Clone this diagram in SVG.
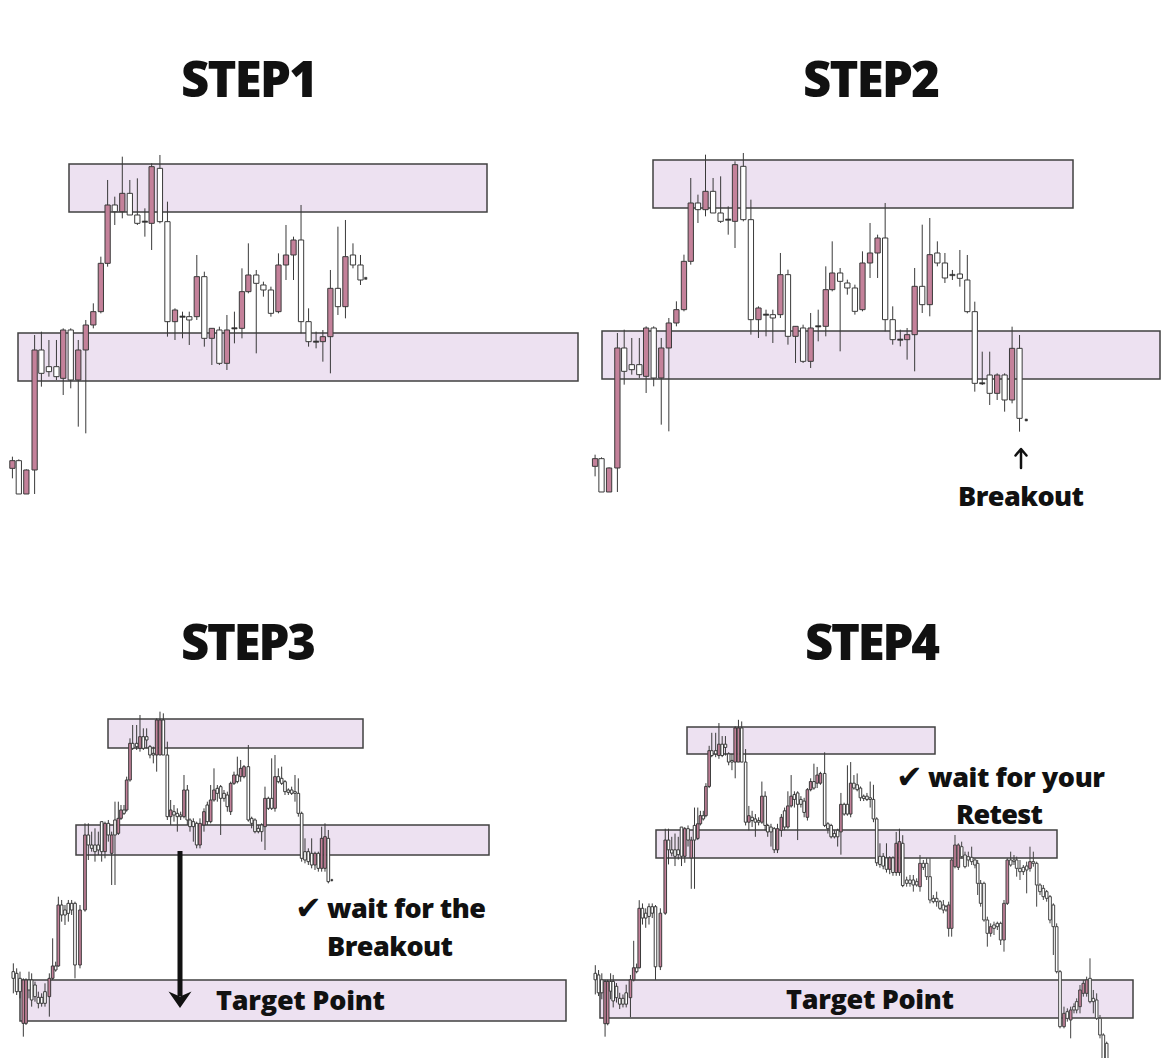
<svg xmlns="http://www.w3.org/2000/svg" xmlns:xlink="http://www.w3.org/1999/xlink" width="1170" height="1058" viewBox="0 0 1170 1058">
<style>
.z{fill:#ede1f1;stroke:#404040;stroke-width:1.5}
.k{fill:none;stroke:#3a3a3a;stroke-width:1;vector-effect:non-scaling-stroke}
.w{fill:#fff;stroke:#3a3a3a;stroke-width:1;vector-effect:non-scaling-stroke}
.p{fill:#c4819a;stroke:#3a3a3a;stroke-width:1;vector-effect:non-scaling-stroke}
.d{fill:#333;stroke:#333;stroke-width:0.6;vector-effect:non-scaling-stroke}
.s .k,.s .w,.s .p{stroke:#444;stroke-width:1}
.t{font-family:"Open Sans","Noto Sans","DejaVu Sans",sans-serif;font-weight:800;fill:#111}
.h{font-size:49px}
.l{font-size:27px}
.ck{font-family:"DejaVu Sans","Noto Sans",sans-serif;font-weight:700;font-size:32px}
.ar{fill:none;stroke:#111;stroke-width:2.5;stroke-linecap:round;stroke-linejoin:round}
</style>
<defs>
<g id="candlesA">
<path class="k" d="M33 950V1015M50 958V1062M70 988V1062M92 585V1062M110 575V740M130 600V710M150 600V720M168 565V765M188 565V745M208 600V860M228 540V880M248 490V565M268 350V520M286 120V380M305 170V255M325 50V235M345 120V225M365 115V255M385 205V290M403 70V330M425 45V250M445 185V590M465 505V600M485 515V595M503 515V615M523 345V540M543 395V620M563 565V675M583 560V675M603 525V690M623 515V610M643 385V595M660 310V460M681 390V640M700 425V470M720 440V530M740 340V520M760 255V420M780 290V420M800 195V580M820 505V620M840 575V625M858 570V665M878 390V700M898 260V525M918 240V535M938 310V385M958 345V435"/>
<rect class="p" x="26" y="962" width="14" height="23"/>
<rect class="w" x="43" y="962" width="14" height="100"/>
<rect class="p" x="63" y="990" width="14" height="72"/>
<rect class="p" x="85" y="630" width="14" height="360"/>
<rect class="w" x="103" y="630" width="14" height="70"/>
<rect class="w" x="123" y="680" width="14" height="15"/>
<rect class="w" x="143" y="680" width="14" height="30"/>
<rect class="p" x="161" y="570" width="14" height="145"/>
<rect class="w" x="181" y="570" width="14" height="150"/>
<rect class="p" x="201" y="630" width="14" height="90"/>
<rect class="p" x="221" y="555" width="14" height="75"/>
<rect class="p" x="241" y="515" width="14" height="40"/>
<rect class="p" x="261" y="370" width="14" height="145"/>
<rect class="p" x="279" y="195" width="14" height="175"/>
<rect class="w" x="298" y="195" width="14" height="20"/>
<rect class="p" x="318" y="160" width="14" height="55"/>
<rect class="w" x="338" y="160" width="14" height="65"/>
<rect class="w" x="358" y="225" width="14" height="25"/>
<rect class="d" x="378" y="243" width="14" height="4"/>
<rect class="p" x="396" y="80" width="14" height="170"/>
<rect class="w" x="418" y="85" width="14" height="160"/>
<rect class="w" x="438" y="245" width="14" height="300"/>
<rect class="p" x="458" y="510" width="14" height="35"/>
<rect class="d" x="478" y="528" width="14" height="4"/>
<rect class="w" x="496" y="530" width="14" height="10"/>
<rect class="p" x="516" y="410" width="14" height="120"/>
<rect class="w" x="536" y="410" width="14" height="185"/>
<rect class="p" x="556" y="565" width="14" height="30"/>
<rect class="w" x="576" y="570" width="14" height="100"/>
<rect class="p" x="596" y="570" width="14" height="100"/>
<rect class="d" x="616" y="563" width="14" height="4"/>
<rect class="p" x="636" y="455" width="14" height="110"/>
<rect class="p" x="653" y="405" width="14" height="50"/>
<rect class="w" x="674" y="405" width="14" height="25"/>
<rect class="w" x="693" y="435" width="14" height="15"/>
<rect class="w" x="713" y="450" width="14" height="70"/>
<rect class="p" x="733" y="375" width="14" height="140"/>
<rect class="p" x="753" y="345" width="14" height="30"/>
<rect class="p" x="773" y="300" width="14" height="45"/>
<rect class="w" x="793" y="300" width="14" height="245"/>
<rect class="w" x="813" y="545" width="14" height="60"/>
<rect class="d" x="833" y="603" width="14" height="4"/>
<rect class="p" x="851" y="590" width="14" height="15"/>
<rect class="p" x="871" y="445" width="14" height="145"/>
<rect class="w" x="891" y="445" width="14" height="55"/>
<rect class="p" x="911" y="350" width="14" height="150"/>
<rect class="w" x="931" y="345" width="14" height="30"/>
<rect class="w" x="951" y="375" width="14" height="45"/>
</g>
<g id="candlesB">
<path class="k" d="M40 775V865M50 790V870M60 800V880M70 820V995M78 820V960M87 800V880M95 805V905M105 830V890M115 860V910M125 865V905M135 835V905M148 805V935M158 700V825M167 770V800M175 575V785M185 585V650M195 600V660M205 585V650M215 585V630M225 590V820M240 600V790M255 355V620M265 355V465M275 380V440M285 370V470M295 380V450M305 350V470M315 350V460M325 345V410M335 380V540M345 290V540M355 290V390M363 300V345M372 300V330M380 215V320M390 100V230M398 60V135M410 60V135M420 30V140M430 70V135M440 70V130M450 120V160M460 125V175M470 40V200M480 20V150M490 25V150M502 110V345M512 285V360M522 300V350M532 310V380M542 320V345M552 210V340M562 240V360M570 340V380M580 340V410M590 350V430M600 340V430M612 310V380M622 290V360M632 240V355M642 190V290M652 240V290M662 240V390M672 255V290M682 260V320M692 230V330M702 200V240M712 155V235M722 165V230M732 180V220M745 120V350M755 335V370M765 340V385M775 360V385M785 355V410M795 245V435M805 275V315M815 160V315M825 150V320M835 190V235M845 185V240M855 225V270M865 250V270M875 245V270M885 210V290M895 220V335M905 320V470M915 400V475M925 430V480M935 400V490M945 440V495M955 440V500M965 365V500M975 355V500M985 375V535"/>
<rect class="w" x="36" y="800" width="8" height="20"/>
<rect class="w" x="46" y="805" width="8" height="55"/>
<rect class="w" x="56" y="820" width="8" height="40"/>
<rect class="p" x="66" y="825" width="8" height="130"/>
<rect class="p" x="74" y="825" width="8" height="130"/>
<rect class="w" x="83" y="825" width="8" height="30"/>
<rect class="w" x="91" y="825" width="8" height="60"/>
<rect class="w" x="101" y="840" width="8" height="35"/>
<rect class="w" x="111" y="877" width="8" height="18"/>
<rect class="w" x="121" y="877" width="8" height="18"/>
<rect class="w" x="131" y="860" width="8" height="35"/>
<rect class="p" x="144" y="820" width="8" height="55"/>
<rect class="p" x="154" y="783" width="8" height="37"/>
<rect class="w" x="163" y="783" width="8" height="12"/>
<rect class="p" x="171" y="600" width="8" height="183"/>
<rect class="w" x="181" y="600" width="8" height="30"/>
<rect class="w" x="191" y="615" width="8" height="15"/>
<rect class="w" x="201" y="595" width="8" height="30"/>
<rect class="w" x="211" y="595" width="8" height="20"/>
<rect class="w" x="221" y="595" width="8" height="185"/>
<rect class="p" x="236" y="615" width="8" height="165"/>
<rect class="p" x="251" y="390" width="8" height="225"/>
<rect class="w" x="261" y="390" width="8" height="30"/>
<rect class="w" x="271" y="420" width="8" height="10"/>
<rect class="w" x="281" y="420" width="8" height="20"/>
<rect class="w" x="291" y="420" width="8" height="15"/>
<rect class="w" x="301" y="350" width="8" height="90"/>
<rect class="p" x="311" y="355" width="8" height="85"/>
<rect class="w" x="321" y="355" width="8" height="35"/>
<rect class="p" x="331" y="390" width="8" height="55"/>
<rect class="w" x="341" y="345" width="8" height="45"/>
<rect class="p" x="351" y="340" width="8" height="45"/>
<rect class="p" x="359" y="315" width="8" height="25"/>
<rect class="w" x="368" y="315" width="8" height="10"/>
<rect class="p" x="376" y="225" width="8" height="90"/>
<rect class="p" x="386" y="115" width="8" height="110"/>
<rect class="w" x="394" y="115" width="8" height="15"/>
<rect class="w" x="406" y="115" width="8" height="10"/>
<rect class="p" x="416" y="95" width="8" height="35"/>
<rect class="w" x="426" y="95" width="8" height="35"/>
<rect class="w" x="436" y="95" width="8" height="10"/>
<rect class="w" x="446" y="125" width="8" height="25"/>
<rect class="w" x="456" y="145" width="8" height="5"/>
<rect class="p" x="466" y="45" width="8" height="105"/>
<rect class="p" x="476" y="45" width="8" height="105"/>
<rect class="w" x="486" y="45" width="8" height="105"/>
<rect class="w" x="498" y="150" width="8" height="185"/>
<rect class="p" x="508" y="315" width="8" height="20"/>
<rect class="w" x="518" y="320" width="8" height="10"/>
<rect class="w" x="528" y="325" width="8" height="10"/>
<rect class="w" x="538" y="330" width="8" height="5"/>
<rect class="p" x="548" y="255" width="8" height="80"/>
<rect class="w" x="558" y="255" width="8" height="90"/>
<rect class="w" x="566" y="345" width="8" height="20"/>
<rect class="w" x="576" y="350" width="8" height="15"/>
<rect class="w" x="586" y="355" width="8" height="65"/>
<rect class="p" x="596" y="355" width="8" height="65"/>
<rect class="p" x="608" y="320" width="8" height="40"/>
<rect class="w" x="618" y="300" width="8" height="50"/>
<rect class="p" x="628" y="285" width="8" height="65"/>
<rect class="p" x="638" y="255" width="8" height="30"/>
<rect class="w" x="648" y="250" width="8" height="15"/>
<rect class="w" x="658" y="245" width="8" height="35"/>
<rect class="w" x="668" y="265" width="8" height="15"/>
<rect class="w" x="678" y="270" width="8" height="35"/>
<rect class="p" x="688" y="235" width="8" height="85"/>
<rect class="p" x="698" y="210" width="8" height="25"/>
<rect class="w" x="708" y="210" width="8" height="20"/>
<rect class="p" x="718" y="190" width="8" height="25"/>
<rect class="p" x="728" y="185" width="8" height="30"/>
<rect class="w" x="741" y="185" width="8" height="160"/>
<rect class="w" x="751" y="340" width="8" height="15"/>
<rect class="w" x="761" y="345" width="8" height="35"/>
<rect class="w" x="771" y="370" width="8" height="10"/>
<rect class="w" x="781" y="360" width="8" height="20"/>
<rect class="p" x="791" y="280" width="8" height="85"/>
<rect class="w" x="801" y="280" width="8" height="30"/>
<rect class="w" x="811" y="280" width="8" height="30"/>
<rect class="p" x="821" y="215" width="8" height="95"/>
<rect class="w" x="831" y="215" width="8" height="15"/>
<rect class="w" x="841" y="220" width="8" height="15"/>
<rect class="w" x="851" y="230" width="8" height="30"/>
<rect class="w" x="861" y="255" width="8" height="7"/>
<rect class="w" x="871" y="255" width="8" height="10"/>
<rect class="w" x="881" y="260" width="8" height="5"/>
<rect class="w" x="891" y="265" width="8" height="60"/>
<rect class="w" x="901" y="325" width="8" height="135"/>
<rect class="w" x="911" y="440" width="8" height="25"/>
<rect class="w" x="921" y="440" width="8" height="30"/>
<rect class="w" x="931" y="445" width="8" height="35"/>
<rect class="p" x="941" y="445" width="8" height="35"/>
<rect class="w" x="951" y="445" width="8" height="45"/>
<rect class="p" x="961" y="400" width="8" height="90"/>
<rect class="p" x="971" y="395" width="8" height="95"/>
<rect class="w" x="981" y="400" width="8" height="130"/>
</g>
</defs>

<g id="step1">
<text class="t h" x="181" y="97" textLength="137">STEP1</text>
<rect class="z" x="69" y="164" width="418" height="48"/>
<rect class="z" x="18" y="333" width="560" height="48"/>
<g transform="translate(0,140) scale(0.3763,0.33333)">
<use xlink:href="#candlesA" href="#candlesA"/>
<rect class="d" x="969" y="412" width="6" height="6"/>
</g>
</g>

<g id="step2">
<text class="t h" x="803" y="97" textLength="137">STEP2</text>
<rect class="z" x="653" y="160" width="420" height="48"/>
<rect class="z" x="602" y="331" width="558" height="48"/>
<g transform="translate(582.6,138) scale(0.3782,0.33333)">
<use xlink:href="#candlesA" href="#candlesA"/>
</g>
<g transform="translate(585,140) scale(0.373,0.33333)">
<path class="k" d="M985 390V420M1005 330V440M1025 345V520M1045 485V755M1065 635V735M1085 635V795M1105 700V780M1125 700V815M1145 560V790M1165 585V875"/>
<rect class="d" x="978" y="403" width="14" height="4"/>
<rect class="w" x="998" y="402" width="14" height="13"/>
<rect class="w" x="1018" y="420" width="14" height="95"/>
<rect class="w" x="1038" y="515" width="14" height="215"/>
<rect class="d" x="1058" y="728" width="14" height="4"/>
<rect class="w" x="1078" y="705" width="14" height="55"/>
<rect class="p" x="1098" y="705" width="14" height="55"/>
<rect class="w" x="1118" y="705" width="14" height="75"/>
<rect class="p" x="1138" y="625" width="14" height="155"/>
<rect class="w" x="1158" y="625" width="14" height="210"/>
<rect class="d" x="1180" y="837" width="6" height="6"/>
</g>
<text class="t l" x="958" y="506" textLength="126">Breakout</text>
</g>

<g id="step3">
<text class="t h" x="181" y="660" textLength="135">STEP3</text>
<rect class="z" x="108" y="719" width="255" height="29"/>
<rect class="z" x="76" y="825" width="413" height="30"/>
<rect class="z" x="20" y="980" width="546" height="41"/>
<g class="s" transform="translate(0,705) scale(0.33333)">
<use xlink:href="#candlesB" href="#candlesB"/>
<rect class="d" x="993" y="523" width="5" height="5"/>
</g>
<text class="t l" x="216" y="1010" textLength="169">Target Point</text>
<text class="t l" x="295" y="919"><tspan class="ck">✔</tspan><tspan x="327" y="918" textLength="159">wait for the</tspan></text>
<text class="t l" x="327" y="956" textLength="126">Breakout</text>
</g>

<g id="step4">
<text class="t h" x="805" y="660" textLength="135">STEP4</text>
<rect class="z" x="687" y="727" width="248" height="27"/>
<rect class="z" x="656" y="830" width="401" height="28"/>
<rect class="z" x="600" y="980" width="533" height="38"/>
<g class="s" transform="translate(582.3,713.3) scale(0.3253,0.325)">
<use xlink:href="#candlesB" href="#candlesB"/>
</g>
<g class="s" transform="translate(860,780) scale(0.33333)">
<path class="k" d="M140 290V320M150 285V320M160 285V335M170 295V320M180 225V335M190 240V270M200 235V300M210 235V370M220 345V370M230 335V380M240 360V390M250 360V400M258 375V395M266 365V470M275 235V470M285 165V265M295 190V270M305 185V235M315 215V265M325 215V260M335 200V255M345 235V265M353 240V345M362 300V380M372 305V425M382 410V500M392 430V470M402 425V465M412 425V450M422 425V495M432 360V515M442 235V375M452 215V260M462 225V255M470 230V290M480 240V300M490 255V285M500 245V340M510 200V275M520 215V260M530 245V380M540 310V345M550 315V360M560 330V365M570 345V430M580 370V525M590 430V580M600 570V745M612 680V745M622 685V725M632 680V775M642 670V700M650 655V700M660 615V700M670 600V650M680 590V650M690 535V670M700 630V700M710 640V720M720 705V775M730 760V834M740 785V834"/>
<rect class="w" x="136" y="300" width="8" height="10"/>
<rect class="w" x="146" y="300" width="8" height="10"/>
<rect class="w" x="156" y="300" width="8" height="15"/>
<rect class="w" x="166" y="305" width="8" height="10"/>
<rect class="p" x="176" y="250" width="8" height="70"/>
<rect class="w" x="186" y="250" width="8" height="12"/>
<rect class="w" x="196" y="250" width="8" height="40"/>
<rect class="w" x="206" y="290" width="8" height="70"/>
<rect class="w" x="216" y="355" width="8" height="10"/>
<rect class="w" x="226" y="355" width="8" height="10"/>
<rect class="w" x="236" y="365" width="8" height="20"/>
<rect class="w" x="246" y="375" width="8" height="15"/>
<rect class="w" x="254" y="380" width="8" height="10"/>
<rect class="p" x="262" y="375" width="8" height="70"/>
<rect class="p" x="271" y="240" width="8" height="205"/>
<rect class="p" x="281" y="195" width="8" height="65"/>
<rect class="p" x="291" y="195" width="8" height="67"/>
<rect class="w" x="301" y="200" width="8" height="30"/>
<rect class="w" x="311" y="225" width="8" height="35"/>
<rect class="w" x="321" y="230" width="8" height="10"/>
<rect class="w" x="331" y="232" width="8" height="13"/>
<rect class="w" x="341" y="240" width="8" height="15"/>
<rect class="w" x="349" y="250" width="8" height="60"/>
<rect class="w" x="358" y="310" width="8" height="60"/>
<rect class="w" x="368" y="310" width="8" height="110"/>
<rect class="w" x="378" y="420" width="8" height="40"/>
<rect class="p" x="388" y="440" width="8" height="20"/>
<rect class="w" x="398" y="435" width="8" height="10"/>
<rect class="w" x="408" y="430" width="8" height="10"/>
<rect class="w" x="418" y="430" width="8" height="50"/>
<rect class="p" x="428" y="370" width="8" height="110"/>
<rect class="p" x="438" y="240" width="8" height="130"/>
<rect class="w" x="448" y="240" width="8" height="15"/>
<rect class="w" x="458" y="240" width="8" height="5"/>
<rect class="w" x="466" y="240" width="8" height="25"/>
<rect class="w" x="476" y="265" width="8" height="10"/>
<rect class="w" x="486" y="262" width="8" height="13"/>
<rect class="w" x="496" y="258" width="8" height="12"/>
<rect class="p" x="506" y="245" width="8" height="20"/>
<rect class="w" x="516" y="245" width="8" height="5"/>
<rect class="w" x="526" y="250" width="8" height="65"/>
<rect class="w" x="536" y="315" width="8" height="20"/>
<rect class="w" x="546" y="325" width="8" height="25"/>
<rect class="w" x="556" y="335" width="8" height="20"/>
<rect class="w" x="566" y="350" width="8" height="70"/>
<rect class="w" x="576" y="375" width="8" height="65"/>
<rect class="w" x="586" y="440" width="8" height="135"/>
<rect class="w" x="596" y="575" width="8" height="165"/>
<rect class="p" x="608" y="700" width="8" height="40"/>
<rect class="w" x="618" y="695" width="8" height="20"/>
<rect class="p" x="628" y="690" width="8" height="30"/>
<rect class="w" x="638" y="680" width="8" height="10"/>
<rect class="w" x="646" y="665" width="8" height="25"/>
<rect class="p" x="656" y="630" width="8" height="50"/>
<rect class="p" x="666" y="610" width="8" height="30"/>
<rect class="p" x="676" y="600" width="8" height="40"/>
<rect class="w" x="686" y="595" width="8" height="70"/>
<rect class="w" x="696" y="655" width="8" height="10"/>
<rect class="w" x="706" y="660" width="8" height="55"/>
<rect class="w" x="716" y="715" width="8" height="50"/>
<rect class="w" x="726" y="765" width="8" height="75"/>
<rect class="w" x="736" y="790" width="8" height="50"/>
</g>
<text class="t l" x="786" y="1009" textLength="168">Target Point</text>
<text class="t l" x="896" y="788"><tspan class="ck">✔</tspan><tspan x="928" y="787" textLength="177">wait for your</tspan></text>
<text class="t l" x="956" y="824" textLength="87">Retest</text>
</g>

<g id="connectors">
<path class="ar" d="M1021 468V450M1015.5 455.5L1021 449L1026.5 455.5"/>
<path d="M180 851V996" fill="none" stroke="#111" stroke-width="5"/>
<path d="M168.5 991.5L180 996.5L191.5 991.5L180 1008Z" fill="#111"/>
</g>
</svg>
